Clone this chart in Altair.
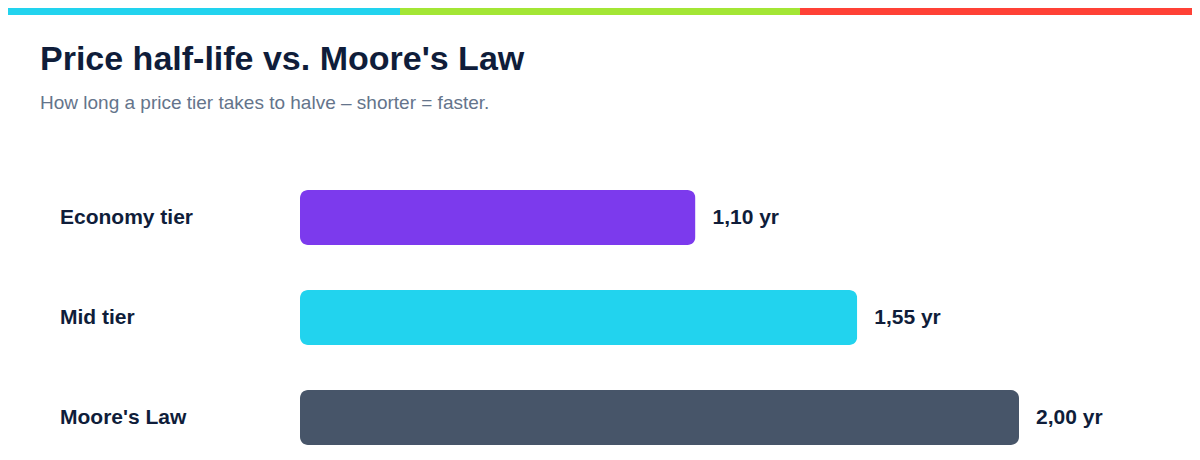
import altair as alt
import pandas as pd

categories = ["Economy tier", "Mid tier", "Moore's Law"]
values = [1.10, 1.55, 2.00]
bar_colors = ["#7c3aed", "#22d3ee", "#475569"]
title_text = "Price half-life vs. Moore's Law"
subtitle_text = "How long a price tier takes to halve \u2013 shorter = faster."
stripe_colors = ["#22d3ee", "#a3e635", "#ff4136"]

FONT = "Helvetica, Arial, Liberation Sans, sans-serif"
INK = "#0f1d3a"

df = pd.DataFrame({
    "category": categories,
    "value": values,
    "color": bar_colors,
    "label": [f"{v:.2f}".replace(".", ",") + " yr" for v in values],
})

W, H = 1184, 452
x_scale = alt.Scale(domain=[0, 2], range=[292, 1011], nice=False, zero=True)
y_scale = alt.Scale(domain=categories, range=[159.5, 459.5], paddingInner=0, paddingOuter=0)

base = alt.Chart(df)

bars = base.mark_bar(size=55, cornerRadius=8).encode(
    x=alt.X("value:Q", scale=x_scale, axis=None),
    y=alt.Y("category:N", scale=y_scale, axis=None, sort=categories),
    color=alt.Color("color:N", scale=None, legend=None),
)

value_labels = base.mark_text(
    align="left", baseline="middle", dx=17, fontSize=21, fontWeight="bold",
    font=FONT, color=INK,
).encode(
    x=alt.X("value:Q", scale=x_scale, axis=None),
    y=alt.Y("category:N", scale=y_scale, axis=None, sort=categories),
    text="label:N",
)

cat_labels = base.mark_text(
    align="left", baseline="middle", fontSize=21, fontWeight="bold",
    font=FONT, color=INK,
).encode(
    x=alt.value(52),
    y=alt.Y("category:N", scale=y_scale, axis=None, sort=categories),
    text="category:N",
)

one = alt.Data(values=[{"a": 1}])

title = alt.Chart(one).mark_text(
    align="left", baseline="alphabetic", fontSize=34, fontWeight="bold",
    font=FONT, color=INK, text=title_text,
).encode(x=alt.value(32), y=alt.value(62))

subtitle = alt.Chart(one).mark_text(
    align="left", baseline="alphabetic", fontSize=19,
    font=FONT, color="#64748b", text=subtitle_text,
).encode(x=alt.value(32), y=alt.value(101))

stripe_edges = [0, 392, 792, W]
stripes = [
    alt.Chart(one).mark_rect(color=c).encode(
        x=alt.value(stripe_edges[i]), x2=alt.value(stripe_edges[i + 1]),
        y=alt.value(0), y2=alt.value(7),
    )
    for i, c in enumerate(stripe_colors)
]

chart = alt.layer(*stripes, title, subtitle, bars, value_labels, cat_labels).properties(
    width=W, height=H, autosize="none", padding=0, background="white",
).configure_view(stroke=None)

chart.save("out.html", embed_options={"renderer": "svg", "actions": False})
